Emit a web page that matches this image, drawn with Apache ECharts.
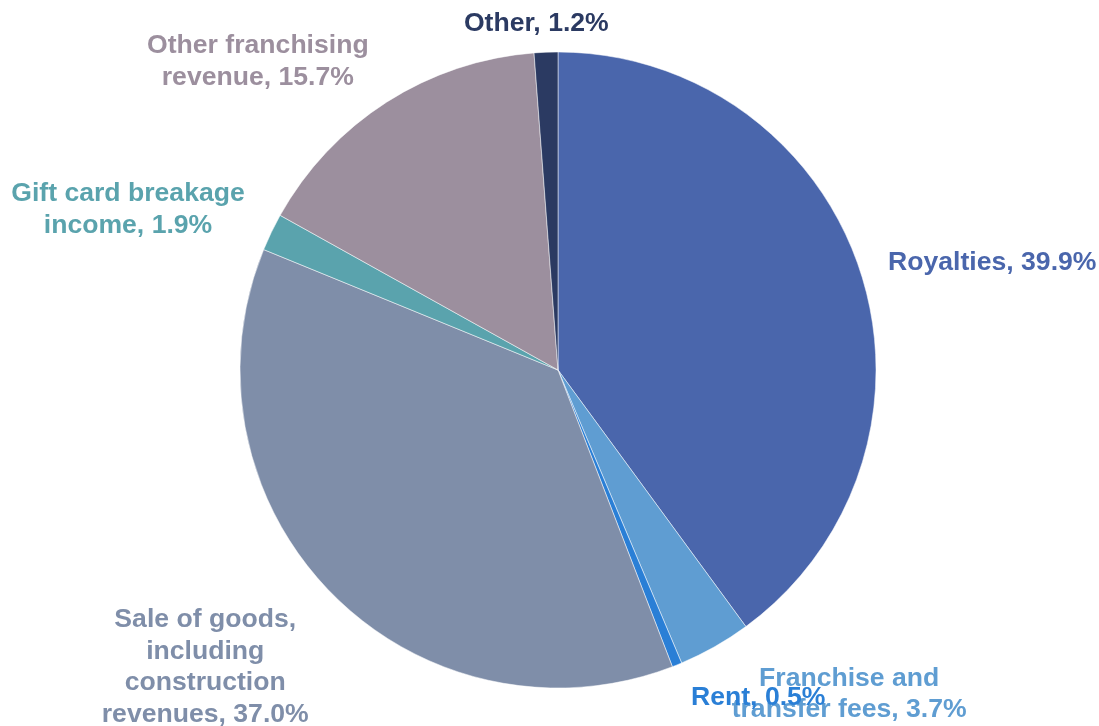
<!DOCTYPE html>
<html>
<head>
<meta charset="utf-8">
<script src="https://cdn.jsdelivr.net/npm/echarts@6/dist/echarts.min.js"></script>
<style>
  html, body { margin: 0; padding: 0; background: #ffffff; }
  #chart { width: 1099px; height: 726px; }
</style>
</head>
<body>
<div id="chart"></div>
<script>
// Revenue mix by source (% of total), clockwise from 12 o'clock
const categories = [
  'Royalties',
  'Franchise and\ntransfer fees',
  'Rent',
  'Sale of goods,\nincluding\nconstruction\nrevenues',
  'Gift card breakage\nincome',
  'Other franchising\nrevenue',
  'Other'
];
const shares = [39.9, 3.7, 0.5, 37.0, 1.9, 15.7, 1.2];
const colors = ['#4A66AC', '#5F9DD2', '#2A7FD6', '#7F8EA9', '#5AA3AD', '#9C8F9E', '#2B3A62'];

const CX = 558, CY = 370, R = 318, LABEL_GAP = 24;
const total = shares.reduce((a, b) => a + b, 0);

// mid-angle direction of each slice (clockwise from top)
const midDirs = [];
let acc = 0;
shares.forEach(v => {
  const a = ((acc + v / 2) / total) * Math.PI * 2;
  midDirs.push([Math.sin(a), -Math.cos(a)]);
  acc += v;
});

const clamp = (t) => Math.max(-1, Math.min(1, t));

const chart = echarts.init(document.getElementById('chart'), null, { renderer: 'canvas' });
chart.setOption({
  animation: false,
  backgroundColor: '#ffffff',
  series: [{
    type: 'pie',
    center: [CX, CY],
    radius: [0, R],
    startAngle: 90,
    clockwise: true,
    avoidLabelOverlap: false,
    itemStyle: { borderColor: '#ffffff', borderWidth: 0.5 },
    label: {
      show: true,
      position: 'outside',
      fontFamily: '"Liberation Sans", Arial, sans-serif',
      fontWeight: 'bold',
      fontSize: 26.6,
      lineHeight: 31.5,
      textBorderWidth: 0,
      formatter: (p) => p.name + ', ' + p.value.toFixed(1) + '%'
    },
    labelLine: { show: false },
    // place each label box just outside its slice, on the side it points to
    labelLayout: (params) => {
      const [dx, dy] = midDirs[params.dataIndex];
      const w = params.labelRect.width, h = params.labelRect.height;
      const px = CX + dx * (R + LABEL_GAP);
      const py = CY + dy * (R + LABEL_GAP);
      return {
        x: px + clamp(dx * 3) * (w / 2 + 5),
        y: py + clamp(dy * 1.5) * (h / 2 - 8) + 3,
        align: 'center',
        verticalAlign: 'middle'
      };
    },
    data: categories.map((name, i) => ({
      name: name,
      value: shares[i],
      itemStyle: { color: colors[i] },
      label: { color: colors[i] }
    }))
  }]
});
</script>
</body>
</html>
